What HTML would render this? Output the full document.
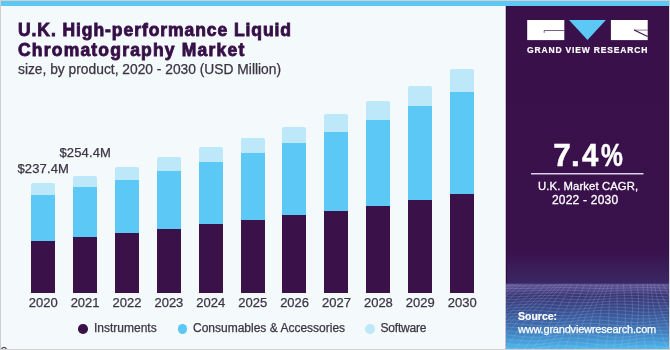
<!DOCTYPE html>
<html><head><meta charset="utf-8"><style>
*{margin:0;padding:0;box-sizing:border-box}
html,body{width:670px;height:350px;overflow:hidden;background:#cfcfcf}
body{position:relative;font-family:"Liberation Sans",sans-serif}
#frame{will-change:transform;position:absolute;left:0;top:0;width:670px;height:350px;background:#f4f9fb;overflow:hidden}
.bd{position:absolute;background:#cfcfcf}
#topbar{position:absolute;left:1px;top:1px;width:668px;height:5px;background:#5bc8f5}
.title{position:absolute;left:18px;color:#350f46;font-weight:bold;font-size:17.5px;white-space:nowrap;-webkit-text-stroke:0.85px #350f46;transform-origin:0 0}
.sub{position:absolute;left:18px;top:62.3px;color:#3b3442;-webkit-text-stroke:0.25px #3b3442;font-size:13.8px;white-space:nowrap}
.bar{position:absolute;width:24px;display:flex;flex-direction:column;border-radius:2px 2px 0 0;overflow:hidden}
.sw{background:#bde8f9}
.cs{background:#5bc8f5}
.in{background:#3a1148;flex:1}
.yr{position:absolute;top:295.2px;width:40px;text-align:center;font-size:13px;color:#3b3442;-webkit-text-stroke:0.25px #3b3442}
.val{position:absolute;font-size:13px;letter-spacing:0.15px;color:#3b3442;-webkit-text-stroke:0.25px #3b3442;white-space:nowrap}
.leg{position:absolute;top:321px;font-size:12px;color:#3b3442;-webkit-text-stroke:0.25px #3b3442;white-space:nowrap}
.dot{position:absolute;top:324px;width:9.6px;height:9.6px;border-radius:50%}
#panel{position:absolute;left:506px;top:6px;width:163px;height:343px;background:#39104a}
.pw{position:absolute;color:#fff;white-space:nowrap}
.big{top:130.9px;font-size:31.5px;font-weight:bold;transform-origin:0 0;-webkit-text-stroke:0.5px #fff}
</style></head><body>
<div id="frame">
<div id="topbar"></div>
<div class="title" style="top:20px;transform:scaleX(1.0);letter-spacing:0.93px">U.K. High-performance Liquid</div>
<div class="title" style="top:39.5px;transform:scaleX(1.0);letter-spacing:1.2px">Chromatography Market</div>
<div class="sub">size, by product, 2020 - 2030 (USD Million)</div>
<div class="bar" style="left:31.0px;top:183.1px;height:109.9px"><div class="sw" style="height:11.6px"></div><div class="cs" style="height:45.9px"></div><div class="in"></div></div><div class="bar" style="left:72.9px;top:175.6px;height:117.4px"><div class="sw" style="height:11.4px"></div><div class="cs" style="height:49.9px"></div><div class="in"></div></div><div class="bar" style="left:114.8px;top:166.9px;height:126.1px"><div class="sw" style="height:13.0px"></div><div class="cs" style="height:53.0px"></div><div class="in"></div></div><div class="bar" style="left:156.7px;top:157.0px;height:136.0px"><div class="sw" style="height:13.8px"></div><div class="cs" style="height:57.9px"></div><div class="in"></div></div><div class="bar" style="left:198.6px;top:147.4px;height:145.6px"><div class="sw" style="height:14.5px"></div><div class="cs" style="height:61.9px"></div><div class="in"></div></div><div class="bar" style="left:240.5px;top:138.0px;height:155.0px"><div class="sw" style="height:15.2px"></div><div class="cs" style="height:66.9px"></div><div class="in"></div></div><div class="bar" style="left:282.4px;top:126.5px;height:166.5px"><div class="sw" style="height:16.3px"></div><div class="cs" style="height:72.6px"></div><div class="in"></div></div><div class="bar" style="left:324.3px;top:114.0px;height:179.0px"><div class="sw" style="height:18.1px"></div><div class="cs" style="height:79.4px"></div><div class="in"></div></div><div class="bar" style="left:366.2px;top:101.2px;height:191.8px"><div class="sw" style="height:18.4px"></div><div class="cs" style="height:86.2px"></div><div class="in"></div></div><div class="bar" style="left:408.1px;top:86.0px;height:207.0px"><div class="sw" style="height:19.9px"></div><div class="cs" style="height:94.0px"></div><div class="in"></div></div><div class="bar" style="left:450.0px;top:69.3px;height:223.7px"><div class="sw" style="height:22.5px"></div><div class="cs" style="height:102.3px"></div><div class="in"></div></div>
<div class="yr" style="left:23.2px">2020</div><div class="yr" style="left:65.1px">2021</div><div class="yr" style="left:107.0px">2022</div><div class="yr" style="left:148.9px">2023</div><div class="yr" style="left:190.8px">2024</div><div class="yr" style="left:232.7px">2025</div><div class="yr" style="left:274.6px">2026</div><div class="yr" style="left:316.5px">2027</div><div class="yr" style="left:358.4px">2028</div><div class="yr" style="left:400.3px">2029</div><div class="yr" style="left:442.2px">2030</div>
<div class="val" style="left:17.4px;top:160.6px">$237.4M</div>
<div class="val" style="left:59.4px;top:144.7px">$254.4M</div>
<div class="dot" style="left:78.4px;background:#3a1148"></div>
<div class="leg" style="left:94px">Instruments</div>
<div class="dot" style="left:177.5px;background:#5bc8f5"></div>
<div class="leg" style="left:193px">Consumables &amp; Accessories</div>
<div class="dot" style="left:365px;background:#bde8f9"></div>
<div class="leg" style="left:380.5px;letter-spacing:-0.2px">Software</div>
<div id="panel">
<svg width="163" height="343" viewBox="506 6 163 343" style="position:absolute;left:0;top:0">
<defs>
<linearGradient id="g1" x1="0" y1="0" x2="0" y2="1">
<stop offset="0" stop-color="#39104a"/>
<stop offset="0.88" stop-color="#39114b"/>
<stop offset="1" stop-color="#3b2866"/>
</linearGradient>
<linearGradient id="g2" x1="0" y1="0" x2="0" y2="1">
<stop offset="0" stop-color="#5c508e"/>
<stop offset="0.07" stop-color="#554b8a"/>
<stop offset="0.17" stop-color="#3a3674"/>
<stop offset="0.4" stop-color="#384e8e"/>
<stop offset="0.65" stop-color="#3e70b0"/>
<stop offset="0.88" stop-color="#459ed8"/>
<stop offset="1" stop-color="#4fbcef"/>
</linearGradient>
</defs>
<rect x="506" y="6" width="163" height="278" fill="url(#g1)"/>
<rect x="506" y="283.7" width="163" height="66" fill="url(#g2)"/>
<g id="mesh" stroke="#c8d0ff" stroke-opacity="0.25" stroke-width="0.7" fill="none"><path d="M504,285.4 L508,285.6 L512,285.7 L516,285.8 L520,285.9 L524,285.9 L528,285.9 L532,285.9 L536,285.8 L540,285.7 L544,285.6 L548,285.5 L552,285.3 L556,285.2 L560,285.1 L564,285.1 L568,285.0 L572,285.1 L576,285.1 L580,285.2 L584,285.4 L588,285.5 L592,285.6 L596,285.8 L600,285.9 L604,285.9 L608,286.0 L612,285.9 L616,285.9 L620,285.8 L624,285.7 L628,285.5 L632,285.4 L636,285.3 L640,285.1 L644,285.1 L648,285.0 L652,285.1 L656,285.1 L660,285.2 L664,285.3 L668,285.5 M504,288.1 L508,288.3 L512,288.4 L516,288.5 L520,288.5 L524,288.5 L528,288.5 L532,288.4 L536,288.3 L540,288.1 L544,288.0 L548,287.8 L552,287.7 L556,287.6 L560,287.5 L564,287.5 L568,287.6 L572,287.7 L576,287.8 L580,287.9 L584,288.1 L588,288.2 L592,288.4 L596,288.5 L600,288.5 L604,288.5 L608,288.5 L612,288.4 L616,288.3 L620,288.2 L624,288.0 L628,287.9 L632,287.7 L636,287.6 L640,287.6 L644,287.5 L648,287.6 L652,287.6 L656,287.7 L660,287.9 L664,288.0 L668,288.2 M504,291.0 L508,291.1 L512,291.2 L516,291.2 L520,291.2 L524,291.1 L528,291.0 L532,290.9 L536,290.7 L540,290.6 L544,290.4 L548,290.3 L552,290.2 L556,290.1 L560,290.1 L564,290.2 L568,290.3 L572,290.4 L576,290.5 L580,290.7 L584,290.9 L588,291.0 L592,291.1 L596,291.2 L600,291.2 L604,291.2 L608,291.1 L612,291.0 L616,290.8 L620,290.6 L624,290.5 L628,290.3 L632,290.2 L636,290.1 L640,290.1 L644,290.1 L648,290.2 L652,290.3 L656,290.5 L660,290.6 L664,290.8 L668,291.0 M504,293.8 L508,293.9 L512,294.0 L516,294.0 L520,293.9 L524,293.8 L528,293.6 L532,293.4 L536,293.2 L540,293.1 L544,292.9 L548,292.8 L552,292.7 L556,292.8 L560,292.8 L564,292.9 L568,293.1 L572,293.3 L576,293.5 L580,293.6 L584,293.8 L588,293.9 L592,294.0 L596,294.0 L600,293.9 L604,293.8 L608,293.7 L612,293.5 L616,293.3 L620,293.1 L624,293.0 L628,292.8 L632,292.8 L636,292.7 L640,292.8 L644,292.9 L648,293.0 L652,293.2 L656,293.4 L660,293.6 L664,293.7 L668,293.9 M504,296.8 L508,296.8 L512,296.8 L516,296.7 L520,296.6 L524,296.4 L528,296.2 L532,296.0 L536,295.8 L540,295.6 L544,295.5 L548,295.5 L552,295.5 L556,295.6 L560,295.7 L564,295.9 L568,296.1 L572,296.3 L576,296.5 L580,296.6 L584,296.7 L588,296.8 L592,296.8 L596,296.7 L600,296.6 L604,296.5 L608,296.3 L612,296.1 L616,295.9 L620,295.7 L624,295.6 L628,295.5 L632,295.5 L636,295.5 L640,295.6 L644,295.8 L648,296.0 L652,296.2 L656,296.4 L660,296.6 L664,296.7 L668,296.8 M504,299.7 L508,299.7 L512,299.6 L516,299.4 L520,299.2 L524,299.0 L528,298.8 L532,298.6 L536,298.4 L540,298.3 L544,298.3 L548,298.3 L552,298.4 L556,298.5 L560,298.7 L564,298.9 L568,299.2 L572,299.4 L576,299.6 L580,299.7 L584,299.7 L588,299.7 L592,299.6 L596,299.5 L600,299.3 L604,299.1 L608,298.9 L612,298.7 L616,298.5 L620,298.3 L624,298.3 L628,298.3 L632,298.3 L636,298.5 L640,298.6 L644,298.9 L648,299.1 L652,299.3 L656,299.5 L660,299.6 L664,299.7 L668,299.7 M504,302.7 L508,302.6 L512,302.4 L516,302.2 L520,301.9 L524,301.7 L528,301.5 L532,301.3 L536,301.2 L540,301.1 L544,301.2 L548,301.3 L552,301.5 L556,301.7 L560,301.9 L564,302.2 L568,302.4 L572,302.6 L576,302.7 L580,302.7 L584,302.7 L588,302.6 L592,302.5 L596,302.3 L600,302.0 L604,301.8 L608,301.5 L612,301.3 L616,301.2 L620,301.1 L624,301.2 L628,301.2 L632,301.4 L636,301.6 L640,301.8 L644,302.1 L648,302.3 L652,302.5 L656,302.6 L660,302.7 L664,302.7 L668,302.7 M504,305.6 L508,305.4 L512,305.2 L516,304.9 L520,304.6 L524,304.4 L528,304.2 L532,304.1 L536,304.1 L540,304.1 L544,304.3 L548,304.5 L552,304.7 L556,305.0 L560,305.2 L564,305.5 L568,305.7 L572,305.8 L576,305.8 L580,305.8 L584,305.7 L588,305.5 L592,305.3 L596,305.0 L600,304.7 L604,304.5 L608,304.3 L612,304.2 L616,304.1 L620,304.1 L624,304.2 L628,304.4 L632,304.6 L636,304.9 L640,305.1 L644,305.4 L648,305.6 L652,305.7 L656,305.8 L660,305.8 L664,305.7 L668,305.6 M504,308.5 L508,308.2 L512,307.9 L516,307.7 L520,307.4 L524,307.3 L528,307.2 L532,307.1 L536,307.2 L540,307.3 L544,307.6 L548,307.8 L552,308.1 L556,308.4 L560,308.6 L564,308.8 L568,309.0 L572,309.0 L576,308.9 L580,308.8 L584,308.6 L588,308.4 L592,308.1 L596,307.8 L600,307.5 L604,307.3 L608,307.2 L612,307.1 L616,307.2 L620,307.3 L624,307.5 L628,307.7 L632,308.0 L636,308.3 L640,308.5 L644,308.8 L648,308.9 L652,309.0 L656,309.0 L660,308.9 L664,308.7 L668,308.5 M504,311.4 L508,311.1 L512,310.8 L516,310.5 L520,310.4 L524,310.3 L528,310.2 L532,310.3 L536,310.5 L540,310.7 L544,311.0 L548,311.3 L552,311.6 L556,311.9 L560,312.1 L564,312.2 L568,312.2 L572,312.2 L576,312.0 L580,311.8 L584,311.5 L588,311.2 L592,310.9 L596,310.6 L600,310.4 L604,310.3 L608,310.2 L612,310.3 L616,310.4 L620,310.6 L624,310.9 L628,311.2 L632,311.5 L636,311.8 L640,312.0 L644,312.2 L648,312.2 L652,312.2 L656,312.1 L660,311.9 L664,311.6 L668,311.3 M504,314.3 L508,314.0 L512,313.7 L516,313.5 L520,313.4 L524,313.4 L528,313.6 L532,313.7 L536,314.0 L540,314.3 L544,314.6 L548,315.0 L552,315.2 L556,315.4 L560,315.5 L564,315.6 L568,315.5 L572,315.3 L576,315.0 L580,314.7 L584,314.4 L588,314.1 L592,313.8 L596,313.6 L600,313.5 L604,313.4 L608,313.5 L612,313.7 L616,313.9 L620,314.2 L624,314.5 L628,314.8 L632,315.1 L636,315.4 L640,315.5 L644,315.6 L648,315.5 L652,315.4 L656,315.2 L660,314.9 L664,314.6 L668,314.2 M504,317.2 L508,317.0 L512,316.8 L516,316.7 L520,316.7 L524,316.9 L528,317.1 L532,317.4 L536,317.7 L540,318.0 L544,318.4 L548,318.7 L552,318.9 L556,319.0 L560,319.0 L564,318.9 L568,318.7 L572,318.4 L576,318.1 L580,317.7 L584,317.4 L588,317.1 L592,316.9 L596,316.7 L600,316.7 L604,316.8 L608,317.0 L612,317.2 L616,317.6 L620,317.9 L624,318.2 L628,318.5 L632,318.8 L636,318.9 L640,319.0 L644,318.9 L648,318.8 L652,318.5 L656,318.2 L660,317.9 L664,317.5 L668,317.2 M504,320.3 L508,320.1 L512,320.0 L516,320.1 L520,320.2 L524,320.5 L528,320.8 L532,321.2 L536,321.5 L540,321.9 L544,322.2 L548,322.4 L552,322.5 L556,322.4 L560,322.3 L564,322.1 L568,321.8 L572,321.4 L576,321.1 L580,320.7 L584,320.4 L588,320.2 L592,320.1 L596,320.1 L600,320.2 L604,320.4 L608,320.7 L612,321.0 L616,321.4 L620,321.7 L624,322.1 L628,322.3 L632,322.4 L636,322.5 L640,322.4 L644,322.2 L648,321.9 L652,321.6 L656,321.2 L660,320.9 L664,320.5 L668,320.3 M504,323.5 L508,323.5 L512,323.5 L516,323.7 L520,324.0 L524,324.3 L528,324.7 L532,325.1 L536,325.5 L540,325.8 L544,326.0 L548,326.0 L552,326.0 L556,325.9 L560,325.6 L564,325.3 L568,324.9 L572,324.5 L576,324.1 L580,323.8 L584,323.6 L588,323.5 L592,323.5 L596,323.6 L600,323.9 L604,324.2 L608,324.5 L612,324.9 L616,325.3 L620,325.6 L624,325.9 L628,326.0 L632,326.0 L636,325.9 L640,325.7 L644,325.4 L648,325.1 L652,324.7 L656,324.3 L660,323.9 L664,323.7 L668,323.5 M504,327.0 L508,327.1 L512,327.3 L516,327.6 L520,327.9 L524,328.3 L528,328.8 L532,329.1 L536,329.4 L540,329.6 L544,329.7 L548,329.6 L552,329.5 L556,329.2 L560,328.8 L564,328.4 L568,328.0 L572,327.6 L576,327.3 L580,327.1 L584,327.0 L588,327.0 L592,327.2 L596,327.4 L600,327.8 L604,328.2 L608,328.6 L612,329.0 L616,329.3 L620,329.6 L624,329.7 L628,329.7 L632,329.6 L636,329.3 L640,329.0 L644,328.6 L648,328.2 L652,327.8 L656,327.4 L660,327.2 L664,327.0 L668,327.0 M504,330.7 L508,330.9 L512,331.2 L516,331.6 L520,332.1 L524,332.5 L528,332.9 L532,333.2 L536,333.4 L540,333.4 L544,333.4 L548,333.2 L552,332.9 L556,332.5 L560,332.0 L564,331.6 L568,331.2 L572,330.9 L576,330.7 L580,330.6 L584,330.6 L588,330.8 L592,331.1 L596,331.4 L600,331.9 L604,332.3 L608,332.7 L612,333.1 L616,333.3 L620,333.4 L624,333.4 L628,333.3 L632,333.0 L636,332.6 L640,332.2 L644,331.8 L648,331.4 L652,331.0 L656,330.7 L660,330.6 L664,330.6 L668,330.7 M504,334.6 L508,335.0 L512,335.4 L516,335.9 L520,336.3 L524,336.7 L528,337.0 L532,337.2 L536,337.3 L540,337.2 L544,336.9 L548,336.6 L552,336.2 L556,335.7 L560,335.2 L564,334.8 L568,334.5 L572,334.3 L576,334.2 L580,334.3 L584,334.5 L588,334.8 L592,335.2 L596,335.7 L600,336.1 L604,336.6 L608,336.9 L612,337.1 L616,337.3 L620,337.2 L624,337.0 L628,336.7 L632,336.4 L636,335.9 L640,335.4 L644,335.0 L648,334.6 L652,334.4 L656,334.2 L660,334.2 L664,334.4 L668,334.7 M504,338.8 L508,339.3 L512,339.8 L516,340.2 L520,340.6 L524,340.9 L528,341.1 L532,341.2 L536,341.0 L540,340.8 L544,340.4 L548,339.9 L552,339.5 L556,339.0 L560,338.6 L564,338.2 L568,338.0 L572,338.0 L576,338.1 L580,338.3 L584,338.6 L588,339.1 L592,339.6 L596,340.0 L600,340.5 L604,340.8 L608,341.1 L612,341.2 L616,341.1 L620,340.9 L624,340.6 L628,340.1 L632,339.7 L636,339.2 L640,338.7 L644,338.4 L648,338.1 L652,338.0 L656,338.0 L660,338.2 L664,338.5 L668,338.9 M504,343.2 L508,343.7 L512,344.2 L516,344.7 L520,345.0 L524,345.1 L528,345.1 L532,345.0 L536,344.7 L540,344.3 L544,343.8 L548,343.3 L552,342.8 L556,342.3 L560,342.0 L564,341.8 L568,341.8 L572,341.9 L576,342.2 L580,342.5 L584,343.0 L588,343.5 L592,344.0 L596,344.5 L600,344.8 L604,345.1 L608,345.1 L612,345.1 L616,344.8 L620,344.5 L624,344.0 L628,343.5 L632,343.0 L636,342.5 L640,342.1 L644,341.9 L648,341.8 L652,341.8 L656,342.0 L660,342.4 L664,342.8 L668,343.3 M504,347.8 L508,348.3 L512,348.7 L516,349.0 L520,349.2 L524,349.2 L528,349.0 L532,348.7 L536,348.2 L540,347.7 L544,347.2 L548,346.7 L552,346.2 L556,345.9 L560,345.7 L564,345.7 L568,345.8 L572,346.1 L576,346.5 L580,347.0 L584,347.6 L588,348.1 L592,348.6 L596,348.9 L600,349.1 L604,349.2 L608,349.1 L612,348.8 L616,348.4 L620,347.9 L624,347.4 L628,346.9 L632,346.4 L636,346.0 L640,345.8 L644,345.7 L648,345.7 L652,346.0 L656,346.4 L660,346.8 L664,347.4 L668,347.9"/><path d="M476.0,284 L470.4,287 L464.8,290 L459.3,293 L453.9,296 L448.6,299 L443.4,302 L438.2,305 L433.1,308 L428.0,311 L423.0,314 L418.0,317 L413.0,320 L407.9,323 L402.9,326 L397.9,329 L392.7,332 L387.6,335 L382.3,338 L377.0,341 L371.6,344 L366.1,347 L360.5,350 M480.8,284 L475.6,287 L470.6,290 L465.6,293 L460.6,296 L455.7,299 L450.9,302 L446.0,305 L441.2,308 L436.4,311 L431.6,314 L426.7,317 L421.7,320 L416.8,323 L411.7,326 L406.6,329 L401.4,332 L396.1,335 L390.7,338 L385.3,341 L379.7,344 L374.2,347 L368.5,350 M486.7,284 L482.0,287 L477.3,290 L472.7,293 L468.0,296 L463.4,299 L458.7,302 L454.0,305 L449.3,308 L444.5,311 L439.7,314 L434.7,317 L429.7,320 L424.6,323 L419.4,326 L414.2,329 L408.8,332 L403.4,335 L398.0,338 L392.5,341 L387.0,344 L381.4,347 L375.9,350 M493.4,284 L488.9,287 L484.5,290 L480.0,293 L475.4,296 L470.8,299 L466.1,302 L461.4,305 L456.6,308 L451.7,311 L446.7,314 L441.6,317 L436.5,320 L431.3,323 L426.0,326 L420.7,329 L415.4,332 L410.0,335 L404.6,338 L399.3,341 L394.0,344 L388.7,347 L383.5,350 M500.1,284 L495.6,287 L491.2,290 L486.6,293 L482.0,296 L477.3,299 L472.5,302 L467.6,305 L462.7,308 L457.7,311 L452.6,314 L447.5,317 L442.3,320 L437.1,323 L432.0,326 L426.8,329 L421.6,332 L416.5,335 L411.5,338 L406.5,341 L401.5,344 L396.7,347 L391.9,350 M506.0,284 L501.4,287 L496.8,290 L492.2,293 L487.4,296 L482.6,299 L477.7,302 L472.8,305 L467.8,308 L462.8,311 L457.8,314 L452.8,317 L447.9,320 L442.9,323 L438.0,326 L433.2,329 L428.4,332 L423.8,335 L419.2,338 L414.7,341 L410.2,344 L405.9,347 L401.6,350 M510.7,284 L506.1,287 L501.4,290 L496.6,293 L491.8,296 L487.0,299 L482.2,302 L477.4,305 L472.6,308 L467.9,311 L463.1,314 L458.5,317 L453.9,320 L449.4,323 L445.0,326 L440.6,329 L436.3,332 L432.2,335 L428.0,338 L424.0,341 L420.0,344 L416.0,347 L412.1,350 M514.4,284 L509.8,287 L505.2,290 L500.5,293 L495.9,296 L491.3,299 L486.8,302 L482.3,305 L477.9,308 L473.6,311 L469.3,314 L465.1,317 L461.0,320 L457.0,323 L453.1,326 L449.2,329 L445.4,332 L441.6,335 L437.8,338 L434.1,341 L430.4,344 L426.6,347 L422.9,350 M517.8,284 L513.4,287 L509.0,290 L504.7,293 L500.4,296 L496.3,299 L492.2,302 L488.2,305 L484.2,308 L480.4,311 L476.6,314 L472.9,317 L469.3,320 L465.7,323 L462.1,326 L458.6,329 L455.0,332 L451.4,335 L447.9,338 L444.2,341 L440.6,344 L436.8,347 L433.0,350 M521.5,284 L517.5,287 L513.6,290 L509.8,293 L506.0,296 L502.3,299 L498.7,302 L495.2,305 L491.7,308 L488.3,311 L484.9,314 L481.5,317 L478.2,320 L474.8,323 L471.4,326 L468.0,329 L464.5,332 L460.9,335 L457.3,338 L453.6,341 L449.9,344 L446.0,347 L442.1,350 M526.3,284 L522.8,287 L519.4,290 L516.0,293 L512.7,296 L509.5,299 L506.3,302 L503.1,305 L499.9,308 L496.7,311 L493.5,314 L490.3,317 L487.0,320 L483.6,323 L480.2,326 L476.7,329 L473.1,332 L469.4,335 L465.7,338 L461.9,341 L458.0,344 L454.0,347 L450.0,350 M532.3,284 L529.2,287 L526.2,290 L523.2,293 L520.2,296 L517.2,299 L514.1,302 L511.1,305 L508.0,308 L504.8,311 L501.6,314 L498.3,317 L494.9,320 L491.4,323 L487.9,326 L484.2,329 L480.5,332 L476.8,335 L473.0,338 L469.1,341 L465.2,344 L461.3,347 L457.4,350 M539.0,284 L536.2,287 L533.3,290 L530.4,293 L527.5,296 L524.6,299 L521.5,302 L518.4,305 L515.2,308 L511.9,311 L508.6,314 L505.2,317 L501.6,320 L498.1,323 L494.4,326 L490.8,329 L487.1,332 L483.3,335 L479.6,338 L475.9,341 L472.2,344 L468.6,347 L465.0,350 M545.6,284 L542.9,287 L540.0,290 L537.1,293 L534.1,296 L531.0,299 L527.8,302 L524.6,305 L521.3,308 L517.9,311 L514.5,314 L511.0,317 L507.5,320 L503.9,323 L500.4,326 L496.8,329 L493.3,332 L489.9,335 L486.4,338 L483.1,341 L479.8,344 L476.6,347 L473.5,350 M551.5,284 L548.6,287 L545.7,290 L542.6,293 L539.5,296 L536.3,299 L533.0,302 L529.7,305 L526.4,308 L523.0,311 L519.7,314 L516.3,317 L513.0,320 L509.7,323 L506.5,326 L503.3,329 L500.2,332 L497.1,335 L494.2,338 L491.3,341 L488.5,344 L485.8,347 L483.1,350 M556.2,284 L553.2,287 L550.2,290 L547.0,293 L543.9,296 L540.7,299 L537.5,302 L534.4,305 L531.2,308 L528.1,311 L525.0,314 L522.0,317 L519.1,320 L516.2,323 L513.4,326 L510.7,329 L508.1,332 L505.5,335 L503.1,338 L500.7,341 L498.3,344 L496.0,347 L493.7,350 M559.9,284 L556.9,287 L553.9,290 L550.9,293 L548.0,296 L545.0,299 L542.1,302 L539.3,305 L536.5,308 L533.8,311 L531.2,314 L528.7,317 L526.2,320 L523.8,323 L521.5,326 L519.3,329 L517.1,332 L515.0,335 L512.9,338 L510.8,341 L508.7,344 L506.6,347 L504.4,350 M563.3,284 L560.5,287 L557.8,290 L555.1,293 L552.5,296 L550.0,299 L547.5,302 L545.2,305 L542.9,308 L540.7,311 L538.6,314 L536.5,317 L534.5,320 L532.5,323 L530.6,326 L528.7,329 L526.8,332 L524.9,335 L522.9,338 L520.9,341 L518.9,344 L516.8,347 L514.6,350 M567.1,284 L564.7,287 L562.4,290 L560.2,293 L558.1,296 L556.1,299 L554.1,302 L552.2,305 L550.4,308 L548.6,311 L546.9,314 L545.1,317 L543.4,320 L541.7,323 L539.9,326 L538.1,329 L536.2,332 L534.3,335 L532.3,338 L530.3,341 L528.1,344 L525.9,347 L523.6,350 M571.9,284 L570.0,287 L568.2,290 L566.5,293 L564.9,296 L563.3,299 L561.7,302 L560.1,305 L558.6,308 L557.0,311 L555.4,314 L553.8,317 L552.2,320 L550.4,323 L548.7,326 L546.8,329 L544.8,332 L542.8,335 L540.7,338 L538.5,341 L536.2,344 L533.9,347 L531.5,350 M577.9,284 L576.4,287 L575.0,290 L573.7,293 L572.3,296 L570.9,299 L569.5,302 L568.1,305 L566.6,308 L565.1,311 L563.5,314 L561.8,317 L560.1,320 L558.2,323 L556.3,326 L554.3,329 L552.2,332 L550.1,335 L547.9,338 L545.7,341 L543.4,344 L541.2,347 L538.9,350 M584.6,284 L583.4,287 L582.2,290 L580.9,293 L579.7,296 L578.3,299 L576.9,302 L575.4,305 L573.9,308 L572.2,311 L570.5,314 L568.7,317 L566.8,320 L564.9,323 L562.9,326 L560.8,329 L558.7,332 L556.7,335 L554.6,338 L552.5,341 L550.4,344 L548.4,347 L546.5,350 M591.2,284 L590.1,287 L588.8,290 L587.6,293 L586.2,296 L584.7,299 L583.2,302 L581.6,305 L579.9,308 L578.1,311 L576.3,314 L574.5,317 L572.6,320 L570.7,323 L568.8,326 L566.9,329 L565.0,332 L563.2,335 L561.4,338 L559.7,341 L558.1,344 L556.5,347 L555.0,350 M597.1,284 L595.8,287 L594.5,290 L593.0,293 L591.5,296 L590.0,299 L588.4,302 L586.7,305 L585.0,308 L583.3,311 L581.5,314 L579.8,317 L578.1,320 L576.5,323 L574.9,326 L573.3,329 L571.9,332 L570.5,335 L569.2,338 L567.9,341 L566.8,344 L565.7,347 L564.7,350 M601.7,284 L600.4,287 L598.9,290 L597.5,293 L595.9,296 L594.4,299 L592.9,302 L591.3,305 L589.8,308 L588.3,311 L586.9,314 L585.5,317 L584.2,320 L583.0,323 L581.9,326 L580.8,329 L579.8,332 L578.9,335 L578.1,338 L577.3,341 L576.6,344 L575.9,347 L575.3,350 M605.4,284 L604.1,287 L602.7,290 L601.4,293 L600.0,296 L598.7,299 L597.5,302 L596.3,305 L595.1,308 L594.1,311 L593.1,314 L592.2,317 L591.4,320 L590.7,323 L590.0,326 L589.4,329 L588.9,332 L588.4,335 L587.9,338 L587.5,341 L587.0,344 L586.5,347 L586.0,350 M608.8,284 L607.7,287 L606.6,290 L605.5,293 L604.6,296 L603.7,299 L602.9,302 L602.2,305 L601.5,308 L601.0,311 L600.5,314 L600.1,317 L599.7,320 L599.4,323 L599.1,326 L598.8,329 L598.5,332 L598.3,335 L597.9,338 L597.6,341 L597.2,344 L596.7,347 L596.1,350 M612.6,284 L611.9,287 L611.2,290 L610.7,293 L610.2,296 L609.8,299 L609.5,302 L609.3,305 L609.1,308 L608.9,311 L608.8,314 L608.7,317 L608.6,320 L608.5,323 L608.4,326 L608.2,329 L608.0,332 L607.7,335 L607.4,338 L606.9,341 L606.4,344 L605.8,347 L605.1,350 M617.4,284 L617.2,287 L617.1,290 L617.0,293 L617.0,296 L617.0,299 L617.1,302 L617.2,305 L617.3,308 L617.3,311 L617.4,314 L617.4,317 L617.4,320 L617.3,323 L617.1,326 L616.9,329 L616.6,332 L616.2,335 L615.7,338 L615.1,341 L614.5,344 L613.8,347 L613.0,350 M623.4,284 L623.7,287 L623.9,290 L624.2,293 L624.4,296 L624.7,299 L624.9,302 L625.1,305 L625.3,308 L625.4,311 L625.4,314 L625.4,317 L625.3,320 L625.0,323 L624.8,326 L624.4,329 L623.9,332 L623.4,335 L622.9,338 L622.3,341 L621.7,344 L621.0,347 L620.4,350 M630.2,284 L630.6,287 L631.0,290 L631.4,293 L631.8,296 L632.1,299 L632.3,302 L632.4,305 L632.5,308 L632.5,311 L632.4,314 L632.2,317 L632.0,320 L631.6,323 L631.3,326 L630.9,329 L630.4,332 L630.0,335 L629.5,338 L629.1,341 L628.7,344 L628.3,347 L628.0,350 M636.8,284 L637.3,287 L637.7,290 L638.0,293 L638.3,296 L638.5,299 L638.6,302 L638.6,305 L638.5,308 L638.4,311 L638.2,314 L638.0,317 L637.7,320 L637.5,323 L637.2,326 L636.9,329 L636.7,332 L636.5,335 L636.4,338 L636.3,341 L636.3,344 L636.4,347 L636.6,350 M642.6,284 L643.0,287 L643.3,290 L643.5,293 L643.6,296 L643.7,299 L643.7,302 L643.7,305 L643.6,308 L643.5,311 L643.4,314 L643.3,317 L643.3,320 L643.3,323 L643.3,326 L643.4,329 L643.6,332 L643.8,335 L644.2,338 L644.6,341 L645.1,344 L645.6,347 L646.3,350 M647.3,284 L647.5,287 L647.7,290 L647.9,293 L648.0,296 L648.1,299 L648.2,302 L648.3,305 L648.4,308 L648.6,311 L648.8,314 L649.1,317 L649.4,320 L649.8,323 L650.3,326 L650.9,329 L651.6,332 L652.3,335 L653.1,338 L654.0,341 L654.9,344 L655.9,347 L656.9,350 M650.9,284 L651.2,287 L651.5,290 L651.8,293 L652.1,296 L652.4,299 L652.8,302 L653.2,305 L653.8,308 L654.3,311 L655.0,314 L655.8,317 L656.6,320 L657.5,323 L658.5,326 L659.5,329 L660.7,332 L661.8,335 L663.0,338 L664.1,341 L665.3,344 L666.5,347 L667.6,350 M654.3,284 L654.8,287 L655.4,290 L656.0,293 L656.7,296 L657.4,299 L658.3,302 L659.2,305 L660.2,308 L661.3,311 L662.4,314 L663.6,317 L664.9,320 L666.2,323 L667.6,326 L669.0,329 L670.3,332 L671.7,335 L673.0,338 L674.2,341 L675.5,344 L676.6,347 L677.7,350 M658.1,284 L659.0,287 L660.1,290 L661.1,293 L662.3,296 L663.6,299 L664.9,302 L666.3,305 L667.7,308 L669.2,311 L670.8,314 L672.3,317 L673.9,320 L675.4,323 L676.9,326 L678.3,329 L679.8,332 L681.1,335 L682.4,338 L683.6,341 L684.7,344 L685.7,347 L686.7,350 M663.0,284 L664.4,287 L665.9,290 L667.5,293 L669.1,296 L670.8,299 L672.5,302 L674.2,305 L675.9,308 L677.7,311 L679.3,314 L681.0,317 L682.6,320 L684.1,323 L685.6,326 L687.0,329 L688.3,332 L689.5,335 L690.7,338 L691.7,341 L692.7,344 L693.7,347 L694.5,350 M669.0,284 L670.9,287 L672.8,290 L674.7,293 L676.6,296 L678.5,299 L680.3,302 L682.2,305 L684.0,308 L685.7,311 L687.4,314 L688.9,317 L690.4,320 L691.9,323 L693.2,326 L694.5,329 L695.6,332 L696.8,335 L697.8,338 L698.9,341 L699.9,344 L700.9,347 L701.9,350 M675.7,284 L677.8,287 L679.9,290 L681.9,293 L683.9,296 L685.8,299 L687.7,302 L689.4,305 L691.1,308 L692.7,311 L694.3,314 L695.7,317 L697.1,320 L698.4,323 L699.7,326 L700.9,329 L702.1,332 L703.3,335 L704.5,338 L705.7,341 L706.9,344 L708.2,347 L709.5,350 M682.4,284 L684.5,287 L686.5,290 L688.5,293 L690.4,296 L692.2,299 L693.9,302 L695.6,305 L697.1,308 L698.6,311 L700.1,314 L701.5,317 L702.9,320 L704.2,323 L705.6,326 L707.0,329 L708.4,332 L709.9,335 L711.4,338 L712.9,341 L714.6,344 L716.3,347 L718.1,350 M688.2,284 L690.2,287 L692.1,290 L693.9,293 L695.7,296 L697.4,299 L699.0,302 L700.6,305 L702.2,308 L703.7,311 L705.3,314 L706.8,317 L708.4,320 L710.1,323 L711.7,326 L713.5,329 L715.3,332 L717.2,335 L719.2,338 L721.2,341 L723.4,344 L725.6,347 L727.9,350"/></g>
<rect x="527.2" y="20" width="37.1" height="20.1" fill="#fff"/>
<path d="M564.3 30.5 H544.2 V32.8" stroke="#39104a" stroke-opacity="0.75" stroke-width="0.9" fill="none"/>
<path d="M569 20 H605.9 L587.5 40 Z" fill="#5bc8f5"/>
<rect x="610.9" y="20" width="36.8" height="20.1" fill="#fff"/>
<path d="M647.7 30.1 H634.1" stroke="#39104a" stroke-opacity="0.6" stroke-width="0.9" fill="none"/><path d="M634.1 30.1 L647.7 36.6" stroke="#39104a" stroke-width="1.1" fill="none"/>
<line x1="531" y1="173.7" x2="643.5" y2="173.7" stroke="#ddd0e8" stroke-width="1.6"/>
</svg>
<div class="pw" style="left:21px;top:39.4px;font-size:8.5px;font-weight:bold;letter-spacing:0.84px;-webkit-text-stroke:0.2px #fff">GRAND VIEW RESEARCH</div>
<div class="pw big" style="left:47.3px">7</div><div class="pw big" style="left:65px">.</div><div class="pw big" style="left:76.4px;transform:scaleX(0.93)">4</div><div class="pw big" style="left:94.8px;transform:scaleX(0.78)">%</div>
<div class="pw" style="left:32px;top:173.6px;font-size:11.3px;letter-spacing:0.1px;-webkit-text-stroke:0.3px #fff">U.K. Market CAGR,</div>
<div class="pw" style="left:46px;top:187.2px;font-size:12px;letter-spacing:0.2px;-webkit-text-stroke:0.3px #fff">2022 - 2030</div>
<div class="pw" style="left:12px;top:303.6px;font-size:10.5px;font-weight:bold;-webkit-text-stroke:0.2px #fff">Source:</div>
<div class="pw" style="left:12px;top:316.5px;font-size:11px;letter-spacing:-0.2px;-webkit-text-stroke:0.25px #fff">www.grandviewresearch.com</div>
</div>
<div class="bd" style="left:505px;top:6px;width:1px;height:343px;background:#c4c0d0"></div><div class="bd" style="left:506px;top:6px;width:1px;height:277px;background:#2f0842"></div><div class="bd" style="left:504px;top:6px;width:1px;height:343px;background:#f9fcff"></div><div style="position:absolute;left:1px;top:347.3px;width:5.5px;height:7px;border:1.4px solid #3b3442;border-radius:50%"></div><div class="bd" style="left:0;top:0;width:670px;height:1px;background:#d6cfca"></div><div class="bd" style="left:0;top:0;width:1px;height:350px"></div><div class="bd" style="left:669px;top:0;width:1px;height:350px;background:#d5d7d4"></div><div class="bd" style="left:669px;top:0;width:1px;height:8px;background:#d6d0cc"></div><div class="bd" style="left:0;top:349px;width:670px;height:1px"></div>
</div>
</body></html>
